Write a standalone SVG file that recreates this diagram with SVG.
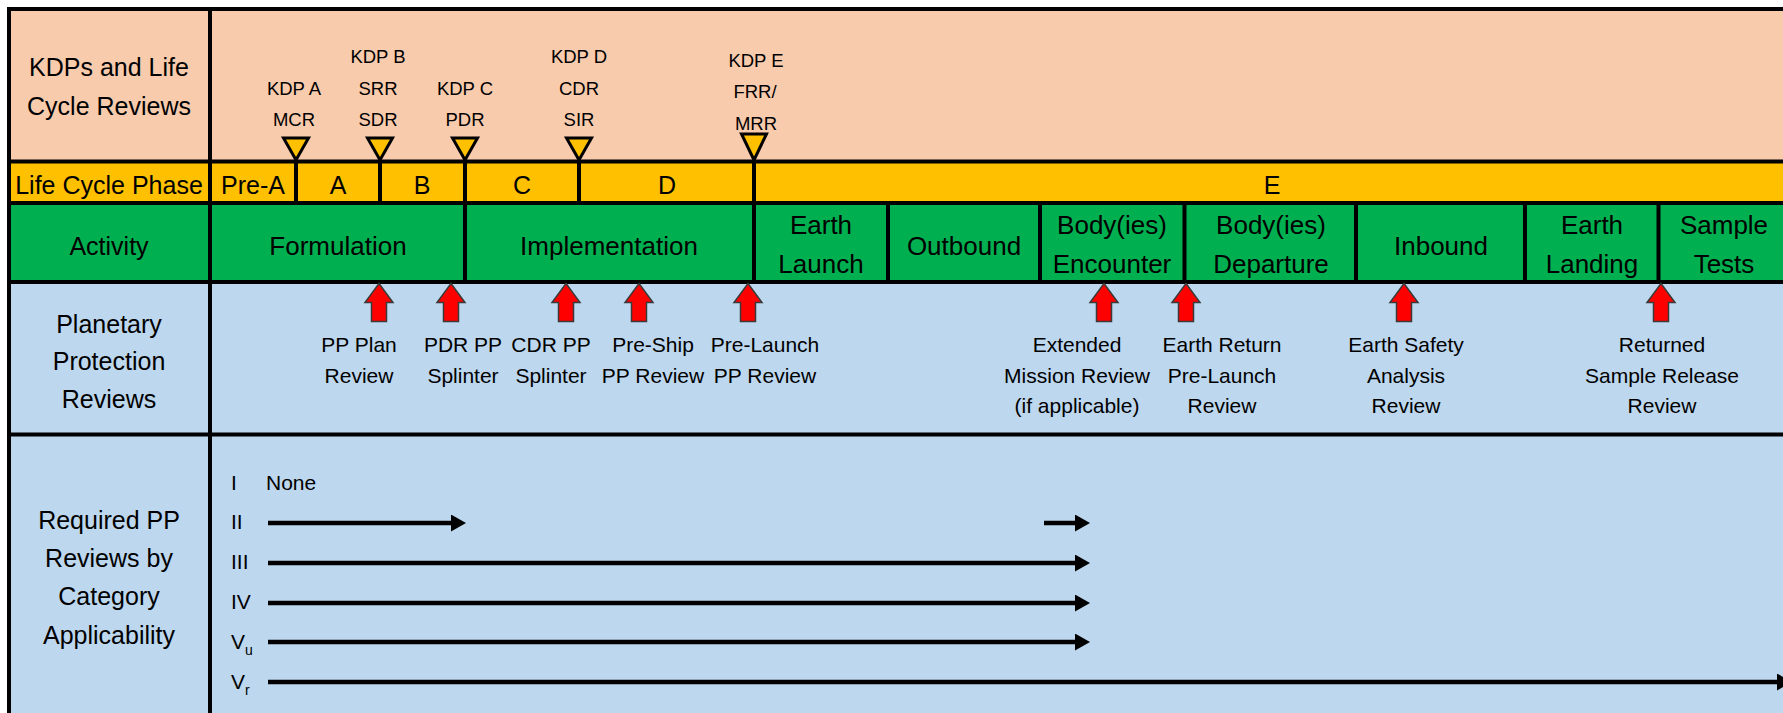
<svg xmlns="http://www.w3.org/2000/svg" width="1783" height="713" viewBox="0 0 1783 713">
<defs>
<style>
text{font-family:"Liberation Sans",Arial,sans-serif;fill:#000;text-anchor:middle}
.hdr{font-size:25px}
.act{font-size:26px}
.ph{font-size:25px}
.kdp{font-size:18.5px}
.pp{font-size:21px}
.cat{font-size:21px;text-anchor:start}
.sub{font-size:14px;text-anchor:start}
.grid{stroke:#000;stroke-width:4;fill:none}
.tri{fill:#FFC000;stroke:#000;stroke-width:3;stroke-linejoin:miter}
.red{fill:#FF0000;stroke:#3a3a3a;stroke-width:1.5}
.conn{stroke:#000;stroke-width:4.5;fill:none}
</style>
<path id="kdpTri" d="M-12.5,0 L12.5,0 L0,22 Z"/>
<path id="ppArrow" d="M0,0 L14,19 L7.5,19 L7.5,38 L-7.5,38 L-7.5,19 L-14,19 Z"/>
<marker id="head" viewBox="0 0 15 17" refX="1" refY="8.5" markerWidth="15" markerHeight="17" markerUnits="userSpaceOnUse" orient="auto">
<path d="M0,0 L15,8.5 L0,17 Z" fill="#000"/>
</marker>
</defs>
<rect width="1783" height="713" fill="#fff"/>
<g id="bands">
<rect x="9" y="9" width="1800" height="153" fill="#F8CBAD"/>
<rect x="9" y="161" width="1800" height="42" fill="#FFC000"/>
<rect x="9" y="203" width="1800" height="79" fill="#00B050"/>
<rect x="9" y="282" width="1800" height="153" fill="#BDD7EE"/>
<rect x="9" y="434" width="1800" height="290" fill="#BDD7EE"/>
</g>
<g id="grid">
<path class="grid" d="M7,9 H1800 M9,9 V720 M210,9 V720 M7,161.5 H1800 M7,203 H1800 M7,282 H1800 M7,434.5 H1800"/>
<path class="grid" d="M296,161.5 V203 M380,161.5 V203 M579,161.5 V203 M465,161.5 V282 M754,161.5 V282"/>
<path class="grid" d="M888,203 V282 M1040,203 V282 M1184.5,203 V282 M1356,203 V282 M1525,203 V282 M1658.5,203 V282"/>
</g>
<g id="row-headers">
<g id="hdr-kdp"><text class="hdr" x="109" y="76">KDPs and Life</text><text class="hdr" x="109" y="115">Cycle Reviews</text></g>
<g id="hdr-phase"><text class="hdr" x="109" y="194">Life Cycle Phase</text></g>
<g id="hdr-activity"><text class="hdr" x="109" y="255">Activity</text></g>
<g id="hdr-pp"><text class="hdr" x="109" y="333">Planetary</text><text class="hdr" x="109" y="370">Protection</text><text class="hdr" x="109" y="408">Reviews</text></g>
<g id="hdr-req"><text class="hdr" x="109" y="529">Required PP</text><text class="hdr" x="109" y="567">Reviews by</text><text class="hdr" x="109" y="605">Category</text><text class="hdr" x="109" y="644">Applicability</text></g>
</g>
<g id="kdps">
<g id="kdp-a"><text class="kdp" x="294" y="95">KDP A</text><text class="kdp" x="294" y="126">MCR</text><use href="#kdpTri" class="tri" x="296" y="138"/></g>
<g id="kdp-b"><text class="kdp" x="378" y="63">KDP B</text><text class="kdp" x="378" y="95">SRR</text><text class="kdp" x="378" y="126">SDR</text><use href="#kdpTri" class="tri" x="380" y="138"/></g>
<g id="kdp-c"><text class="kdp" x="465" y="95">KDP C</text><text class="kdp" x="465" y="126">PDR</text><use href="#kdpTri" class="tri" x="465" y="138"/></g>
<g id="kdp-d"><text class="kdp" x="579" y="63">KDP D</text><text class="kdp" x="579" y="95">CDR</text><text class="kdp" x="579" y="126">SIR</text><use href="#kdpTri" class="tri" x="579" y="138"/></g>
<g id="kdp-e"><text class="kdp" x="756" y="67">KDP E</text><text class="kdp" x="755" y="98">FRR/</text><text class="kdp" x="756" y="130">MRR</text><path class="tri" d="M741.5,134 L766.5,134 L754,160 Z"/></g>
</g>
<g id="phases">
<g id="ph-prea"><text class="ph" x="253" y="194">Pre-A</text></g>
<g id="ph-a"><text class="ph" x="338" y="194">A</text></g>
<g id="ph-b"><text class="ph" x="422" y="194">B</text></g>
<g id="ph-c"><text class="ph" x="522" y="194">C</text></g>
<g id="ph-d"><text class="ph" x="667" y="194">D</text></g>
<g id="ph-e"><text class="ph" x="1272" y="194">E</text></g>
</g>
<g id="activities">
<g id="act-formulation"><text class="act" x="338" y="255">Formulation</text></g>
<g id="act-implementation"><text class="act" x="609" y="255">Implementation</text></g>
<g id="act-launch"><text class="act" x="821" y="234">Earth</text><text class="act" x="821" y="273">Launch</text></g>
<g id="act-outbound"><text class="act" x="964" y="255">Outbound</text></g>
<g id="act-encounter"><text class="act" x="1112" y="234">Body(ies)</text><text class="act" x="1112" y="273">Encounter</text></g>
<g id="act-departure"><text class="act" x="1271" y="234">Body(ies)</text><text class="act" x="1271" y="273">Departure</text></g>
<g id="act-inbound"><text class="act" x="1441" y="255">Inbound</text></g>
<g id="act-landing"><text class="act" x="1592" y="234">Earth</text><text class="act" x="1592" y="273">Landing</text></g>
<g id="act-tests"><text class="act" x="1724" y="234">Sample</text><text class="act" x="1724" y="273">Tests</text></g>
</g>
<g id="pp-reviews">
<g id="pp-plan"><use href="#ppArrow" class="red" x="379" y="283.5"/><text class="pp" x="359" y="352">PP Plan</text><text class="pp" x="359" y="383">Review</text></g>
<g id="pp-pdr"><use href="#ppArrow" class="red" x="451" y="283.5"/><text class="pp" x="463" y="352">PDR PP</text><text class="pp" x="463" y="383">Splinter</text></g>
<g id="pp-cdr"><use href="#ppArrow" class="red" x="566" y="283.5"/><text class="pp" x="551" y="352">CDR PP</text><text class="pp" x="551" y="383">Splinter</text></g>
<g id="pp-preship"><use href="#ppArrow" class="red" x="639" y="283.5"/><text class="pp" x="653" y="352">Pre-Ship</text><text class="pp" x="653" y="383">PP Review</text></g>
<g id="pp-prelaunch"><use href="#ppArrow" class="red" x="748" y="283.5"/><text class="pp" x="765" y="352">Pre-Launch</text><text class="pp" x="765" y="383">PP Review</text></g>
<g id="pp-extended"><use href="#ppArrow" class="red" x="1104" y="283.5"/><text class="pp" x="1077" y="352">Extended</text><text class="pp" x="1077" y="383">Mission Review</text><text class="pp" x="1077" y="413">(if applicable)</text></g>
<g id="pp-earthreturn"><use href="#ppArrow" class="red" x="1186" y="283.5"/><text class="pp" x="1222" y="352">Earth Return</text><text class="pp" x="1222" y="383">Pre-Launch</text><text class="pp" x="1222" y="413">Review</text></g>
<g id="pp-safety"><use href="#ppArrow" class="red" x="1404" y="283.5"/><text class="pp" x="1406" y="352">Earth Safety</text><text class="pp" x="1406" y="383">Analysis</text><text class="pp" x="1406" y="413">Review</text></g>
<g id="pp-release"><use href="#ppArrow" class="red" x="1661" y="283.5"/><text class="pp" x="1662" y="352">Returned</text><text class="pp" x="1662" y="383">Sample Release</text><text class="pp" x="1662" y="413">Review</text></g>
</g>
<g id="categories">
<g id="cat-i"><text class="cat" x="231" y="490">I</text><text class="cat" x="266" y="490">None</text></g>
<g id="cat-ii"><text class="cat" x="231" y="529">II</text></g>
<g id="cat-iii"><text class="cat" x="231" y="569">III</text></g>
<g id="cat-iv"><text class="cat" x="231" y="609">IV</text></g>
<g id="cat-vu"><text class="cat" x="231" y="649">V</text><text class="sub" x="245" y="655">u</text></g>
<g id="cat-vr"><text class="cat" x="231" y="689">V</text><text class="sub" x="245" y="695">r</text></g>
</g>
<g id="connectors">
<path class="conn" marker-end="url(#head)" d="M268,523 H452"/>
<path class="conn" marker-end="url(#head)" d="M1044,523 H1076"/>
<path class="conn" marker-end="url(#head)" d="M268,563 H1076"/>
<path class="conn" marker-end="url(#head)" d="M268,603 H1076"/>
<path class="conn" marker-end="url(#head)" d="M268,642 H1076"/>
<path class="conn" marker-end="url(#head)" d="M268,682 H1778"/>
</g>
</svg>
